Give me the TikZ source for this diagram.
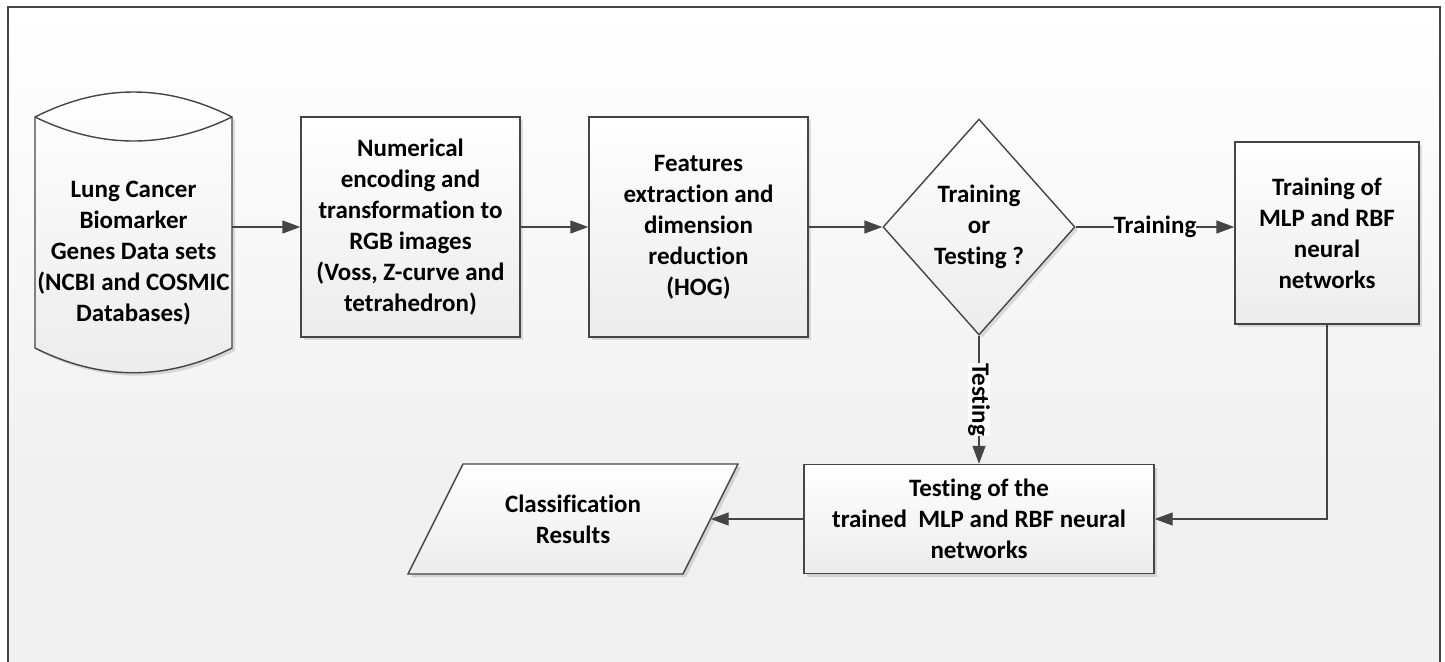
\documentclass[tikz,border=0pt]{standalone}
\usepackage{fontspec}
\setmainfont{Carlito}[Ligatures={NoCommon,NoContextual}]
\usetikzlibrary{arrows.meta,shapes.geometric,shadows}
\definecolor{ln}{HTML}{454545}
\definecolor{bgbot}{HTML}{F1F1F1}
\definecolor{fillbot}{HTML}{ECECEC}
\begin{document}
\begin{tikzpicture}[x=1pt,y=-1pt,
  lbl/.style={font=\fontsize{25}{31}\selectfont\bfseries, align=center, text=black},
  shadowed/.style={drop shadow={shadow xshift=3pt,shadow yshift=-3pt,fill=black,opacity=0.12}},
  shapefill/.style={draw=ln, line width=1.4pt, top color=white, bottom color=fillbot, shadowed},
  procbox/.style={lbl, shapefill, inner sep=0pt},
  conn/.style={draw=ln, line width=1.4pt, -{Triangle[length=18pt,width=13pt]}},
  edgelbl/.style={lbl, fill=white, inner sep=0pt}
]
\useasboundingbox (0,0) rectangle (1445,661);
% background
\fill[white] (0,0) rectangle (1445,661);
\shade[top color=white,bottom color=bgbot] (8,7) rectangle (1440,470);
\fill[bgbot] (8,470) rectangle (1440,662);
\draw[ln, line width=2pt] (8,665) -- (8,7) -- (1440,7) -- (1440,665);

% cylinder (data store)
\path[shapefill] (35,117) .. controls (101,83.7) and (166,83.7) .. (232,117)
  -- (232,348) .. controls (166,381) and (101,381) .. (35,348) -- cycle;
\draw[ln, line width=1.4pt] (35,117) .. controls (101,149) and (166,149) .. (232,117);
\node[lbl, inner sep=0pt] (cyl) at (133.5,253) {Lung Cancer\\Biomarker\\Genes Data sets\\(NCBI and COSMIC\\Databases)};
\coordinate (cylR) at (232,227);

% process boxes
\node[procbox, minimum width=219pt, minimum height=220pt] (b1) at (410.5,227)
  {Numerical\\encoding and\\transformation to\\RGB images\\(Voss, Z-curve and\\tetrahedron)};
\node[procbox, minimum width=219pt, minimum height=220pt] (b2) at (698.5,227)
  {Features\\extraction and\\dimension\\reduction\\(HOG)};
\node[shape=diamond, shapefill, inner sep=0pt, minimum width=192pt, minimum height=216pt] (dia) at (979,227) {};
\node[lbl, inner sep=0pt] (diat) at (979,227) {Training\\or\\Testing ?};
\node[procbox, minimum width=184pt, minimum height=182pt] (b3) at (1327,233)
  {Training of\\MLP and RBF\\neural\\networks};
\node[procbox, minimum width=350pt, minimum height=109pt] (b4) at (979,519)
  {Testing of the\\trained\ \ MLP and RBF neural\\networks};

% parallelogram (output)
\path[shapefill] (463,464) -- (738,464) -- (683,574) -- (408,574) -- cycle;
\node[lbl, inner sep=0pt, minimum width=275pt, minimum height=110pt] (res) at (573,519) {Classification\\Results};

% connectors
\draw[conn] (cylR) -- (b1.west |- cylR);
\draw[conn] (b1.east) -- (b2.west);
\draw[conn] (b2.east) -- (dia.west);
\draw[conn] (dia.east) -- (dia.east -| b3.west) node[edgelbl, midway] {Training};
\draw[conn] (dia.south) -- (b4.north) node[edgelbl, midway, rotate=-90] {Testing};
\draw[conn] (b3.south) |- (b4.east);
\draw[conn] (b4.west) -- (res.east);
\end{tikzpicture}
\end{document}
